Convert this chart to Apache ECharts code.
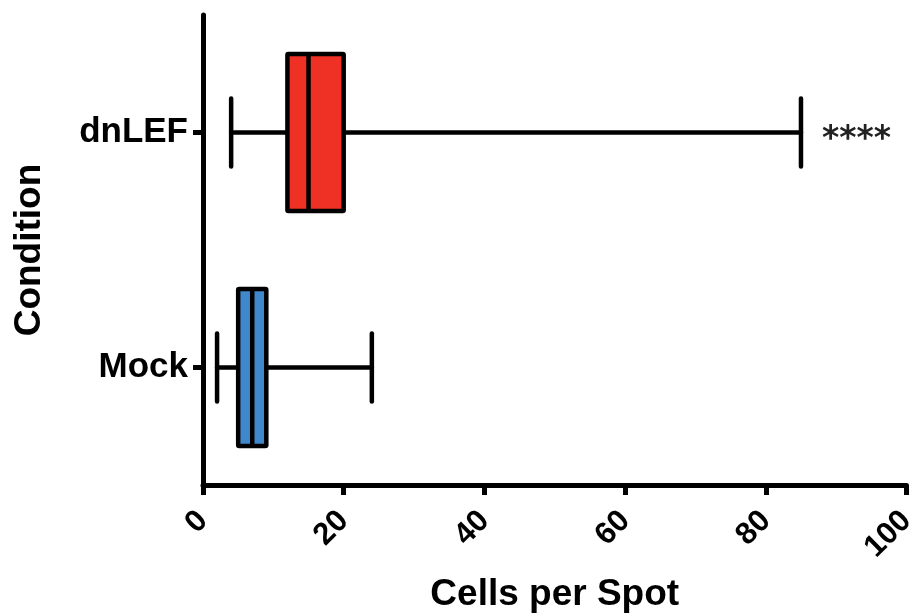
<!DOCTYPE html>
<html>
<head>
<meta charset="utf-8">
<script src="https://cdn.jsdelivr.net/npm/echarts@6/dist/echarts.min.js"></script>
<style>
html,body{margin:0;padding:0;background:#fff;}
#chart{width:913px;height:613px;}
</style>
</head>
<body>
<div id="chart"></div>
<script>
const categories = ['Mock', 'dnLEF'];
const minVals = [2, 4];
const q1Vals = [5, 12];
const medianVals = [7, 15];
const q3Vals = [9, 20];
const maxVals = [24, 85];
const annotations = ['', '****'];
const xTicks = [0, 20, 40, 60, 80, 100];
const boxColors = ['#4187CC', '#EE3124'];

const FONT = "'Liberation Sans', Arial, Helvetica, sans-serif";

const seriesData = categories.map((c, i) => [i, minVals[i], q1Vals[i], medianVals[i], q3Vals[i], maxVals[i]]);

const chart = echarts.init(document.getElementById('chart'), null, {renderer: 'canvas'});

function renderItem(params, api) {
  const idx = api.value(0);
  const pMin = api.coord([api.value(1), idx]);
  const pQ1 = api.coord([api.value(2), idx]);
  const pMed = api.coord([api.value(3), idx]);
  const pQ3 = api.coord([api.value(4), idx]);
  const pMax = api.coord([api.value(5), idx]);
  const band = api.size([0, 1])[1];
  const boxH = band * 0.668;
  const capH = band * 0.29;
  const cy = pMin[1];
  const lw = 4.5;
  const lineStyle = {stroke: '#000', lineWidth: lw, lineCap: 'round'};
  const children = [
    {type: 'line', shape: {x1: pMin[0], y1: cy, x2: pQ1[0], y2: cy}, style: lineStyle},
    {type: 'line', shape: {x1: pQ3[0], y1: cy, x2: pMax[0], y2: cy}, style: lineStyle},
    {type: 'line', shape: {x1: pMin[0], y1: cy - capH / 2, x2: pMin[0], y2: cy + capH / 2}, style: lineStyle},
    {type: 'line', shape: {x1: pMax[0], y1: cy - capH / 2, x2: pMax[0], y2: cy + capH / 2}, style: lineStyle},
    {type: 'rect', shape: {x: pQ1[0], y: cy - boxH / 2, width: pQ3[0] - pQ1[0], height: boxH, r: 1},
      style: {fill: boxColors[idx], stroke: '#000', lineWidth: lw, lineJoin: 'round'}},
    {type: 'line', shape: {x1: pMed[0], y1: cy - boxH / 2, x2: pMed[0], y2: cy + boxH / 2}, style: {stroke: '#000', lineWidth: lw}}
  ];
  const ann = annotations[idx];
  if (ann) {
    children.push({type: 'text', x: pMax[0] + 21, y: cy + 8,
      style: {text: ann, fill: '#222', font: "bold 33px 'DejaVu Sans', sans-serif", align: 'left', verticalAlign: 'middle'}});
  }
  return {type: 'group', children: children};
}

chart.setOption({
  animation: false,
  backgroundColor: '#fff',
  grid: {left: 203, right: 6.5, top: 15, bottom: 128, containLabel: false, outerBoundsMode: 'none'},
  xAxis: {
    type: 'value', min: xTicks[0], max: xTicks[xTicks.length - 1], interval: 20,
    name: 'Cells per Spot', nameLocation: 'middle', nameGap: 91,
    nameTextStyle: {fontFamily: FONT, fontWeight: 'bold', fontSize: 37, color: '#000'},
    axisLine: {show: true, lineStyle: {color: '#000', width: 5}},
    axisTick: {show: true, length: 10, lineStyle: {color: '#000', width: 5}},
    axisLabel: {rotate: 45, margin: 31, fontFamily: FONT, fontWeight: 'bold', fontSize: 31, color: '#000'},
    splitLine: {show: false}
  },
  yAxis: {
    type: 'category', data: categories,
    name: 'Condition', nameLocation: 'middle', nameGap: 155,
    nameTextStyle: {fontFamily: FONT, fontWeight: 'bold', fontSize: 37, color: '#000'},
    axisLine: {show: true, lineStyle: {color: '#000', width: 5}},
    axisTick: {show: true, alignWithLabel: true, length: 10, lineStyle: {color: '#000', width: 5}},
    axisLabel: {margin: 15, fontFamily: FONT, fontWeight: 'bold', fontSize: 35, color: '#000'},
    splitLine: {show: false}
  },
  series: [{
    type: 'custom',
    renderItem: renderItem,
    encode: {x: [1, 2, 3, 4, 5], y: 0},
    data: seriesData
  }]
});
</script>
</body>
</html>
